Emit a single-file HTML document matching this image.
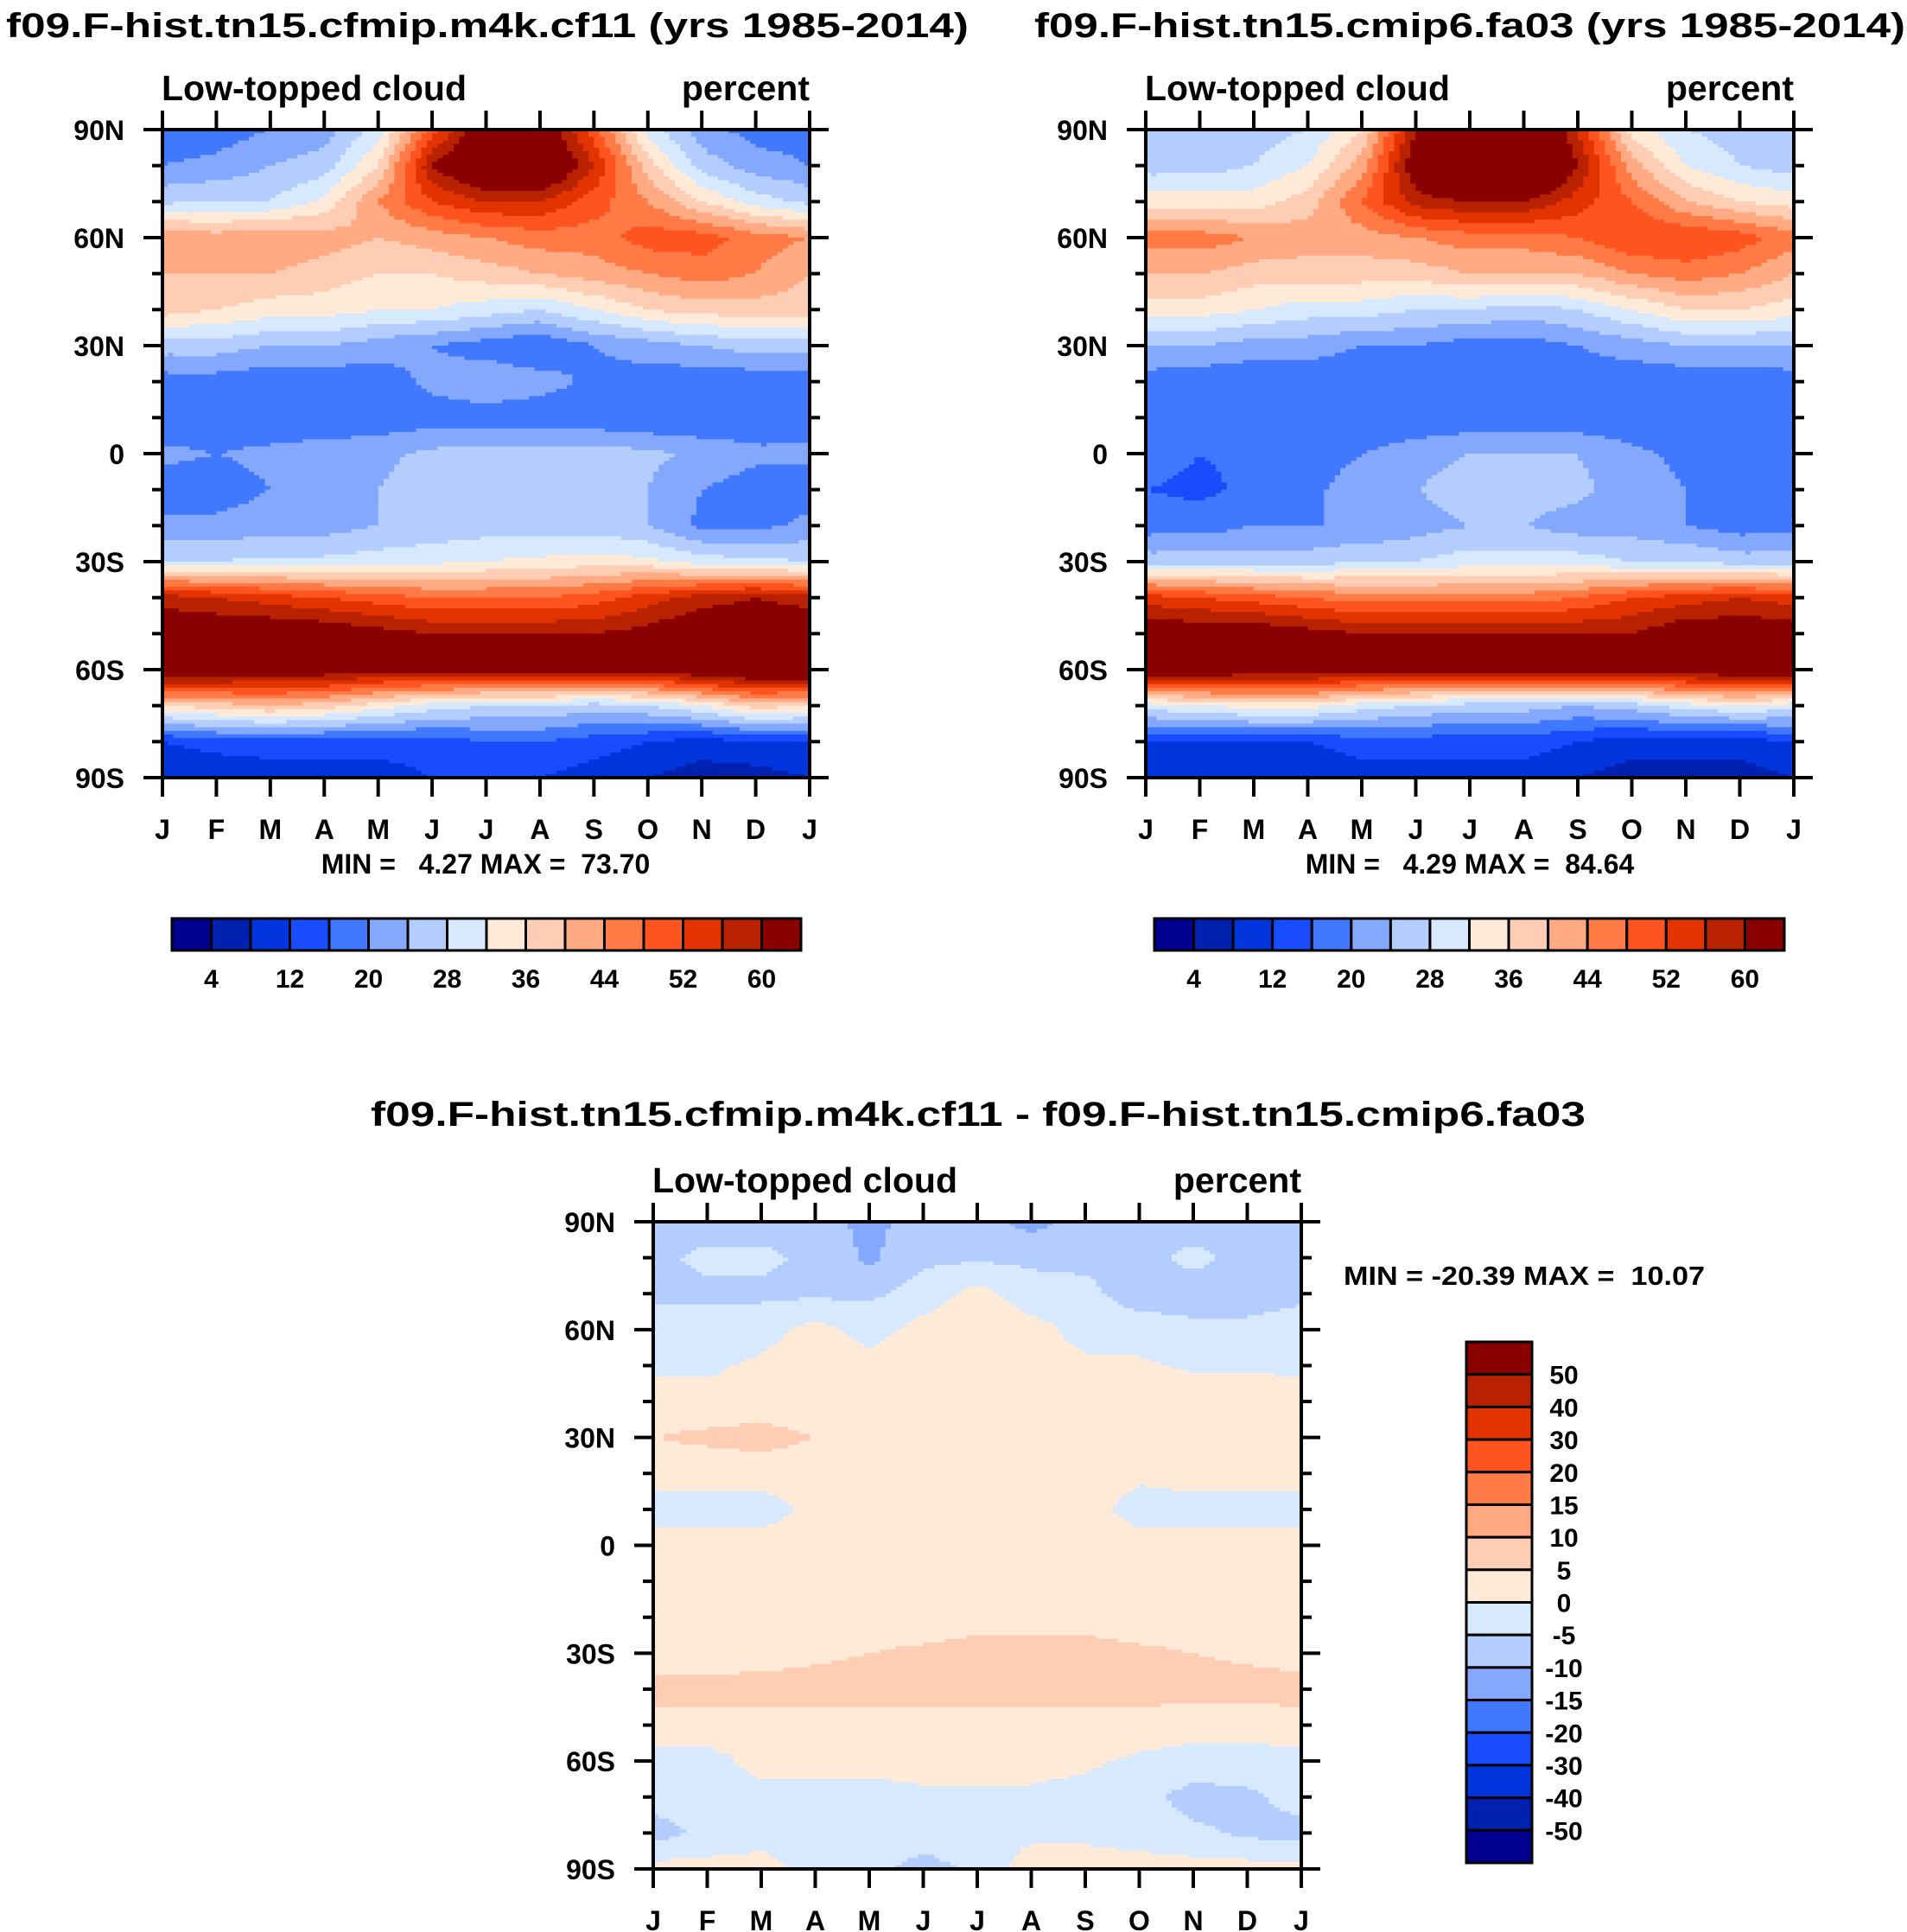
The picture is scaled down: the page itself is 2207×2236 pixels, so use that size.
<!DOCTYPE html>
<html><head><meta charset="utf-8"><style>
html,body{margin:0;padding:0;background:#fff}
svg{display:block}
text{font-family:"Liberation Sans",Arial,sans-serif;font-weight:bold;fill:#000}
</style></head><body>
<svg id="fig" xmlns="http://www.w3.org/2000/svg" width="2207" height="2236" viewBox="0 0 2207 2236">
<g id="p1">
<text x="7" y="43" font-size="40" textLength="1114" lengthAdjust="spacingAndGlyphs">f09.F-hist.tn15.cfmip.m4k.cf11 (yrs 1985-2014)</text>
<text x="187" y="116" font-size="41">Low-topped cloud</text>
<text x="937" y="116" font-size="41" text-anchor="end">percent</text>
<text x="562" y="1011" font-size="32" text-anchor="middle" xml:space="preserve">MIN =   4.27 MAX =  73.70</text>
</g>
<g id="p2">
<text x="1197" y="43" font-size="40" textLength="1008" lengthAdjust="spacingAndGlyphs">f09.F-hist.tn15.cmip6.fa03 (yrs 1985-2014)</text>
<text x="1325" y="116" font-size="41">Low-topped cloud</text>
<text x="2076" y="116" font-size="41" text-anchor="end">percent</text>
<text x="1701" y="1011" font-size="32" text-anchor="middle" xml:space="preserve">MIN =   4.29 MAX =  84.64</text>
</g>
<g id="p3">
<text x="429" y="1303" font-size="40" textLength="1406" lengthAdjust="spacingAndGlyphs">f09.F-hist.tn15.cfmip.m4k.cf11 - f09.F-hist.tn15.cmip6.fa03</text>
<text x="755" y="1380" font-size="41">Low-topped cloud</text>
<text x="1506" y="1380" font-size="41" text-anchor="end">percent</text>
<text x="1555" y="1487" font-size="31" textLength="418" lengthAdjust="spacingAndGlyphs" xml:space="preserve">MIN = -20.39 MAX =  10.07</text>
</g>
</svg>
<script>
const months = ["J","F","M","A","M","J","J","A","S","O","N","D","J"];
const lats = [90,80,70,60,50,40,30,20,10,0,-10,-20,-30,-40,-50,-60,-70,-80,-90];
const latTickLabels = ["90N","60N","30N","0","30S","60S","90S"];
const colors = ["#000090","#0021B0","#0034DC","#1A4CFF","#4079FF","#85A8FF","#B4CDFF","#D7E9FF","#FFEAD8","#FECDB4","#FFAA82","#FF7A45","#FF5420","#E23300","#B82200","#8A0000"];
const levelsAbs = [4,8,12,16,20,24,28,32,36,40,44,48,52,56,60];
const levelsDiff = [-50,-40,-30,-20,-15,-10,-5,0,5,10,15,20,30,40,50];
const cbLabelsAbs = ["4","12","20","28","36","44","52","60"];
const cbLabelsDiff = ["50","40","30","20","15","10","5","0","-5","-10","-15","-20","-30","-40","-50"];
const cfmip = [
[18,18,20,22,30,50,65,65,50,30,22,18,18],
[20,21,24,26,36,60,70,70,56,38,26,22,20],
[27,28,28,33,44,52,56,56,50,44,36,30,27],
[44,42,44,42,40,42,44,46,46,50,50,46,44],
[40,40,40,38,36,36,38,40,42,44,46,44,40],
[38,36,34,34,32,32,30,28,32,36,38,38,38],
[26,26,24,24,22,20,18,16,20,22,24,26,26],
[18,18,17,17,18,21,23,22,19,18,17,17,18],
[17,17,17,17,17,18,18,17,17,16,16,17,17],
[21,20,21,22,23,25,26,26,26,25,23,21,21],
[18,18,20,21,24,26,27,27,26,24,20,18,18],
[21,21,22,22,24,25,26,26,26,24,19,19,21],
[28,28,29,29,30,31,32,33,34,33,30,29,28],
[58,56,54,52,50,48,48,48,50,54,58,60,58],
[65,65,65,64,62,60,60,60,60,62,65,65,65],
[68,66,64,64,62,62,62,62,62,62,66,68,68],
[36,38,40,38,34,30,28,28,26,28,32,38,36],
[12,14,14,14,14,14,16,16,14,12,10,12,12],
[8,8,10,10,10,12,12,12,10,8,6,6,8]];
const cmip6 = [
[24,24,26,28,36,60,72,72,56,34,28,26,24],
[26,26,28,32,42,64,78,78,60,42,32,28,26],
[34,34,34,38,48,58,60,60,54,48,40,36,34],
[46,46,44,42,42,44,46,46,48,52,52,50,46],
[40,40,38,38,38,38,40,40,40,44,46,44,40],
[34,34,32,30,30,28,28,26,28,32,36,36,34],
[24,24,22,22,20,20,18,18,20,22,24,24,24],
[18,17,17,17,17,18,20,18,18,17,17,17,18],
[16,16,16,17,17,17,17,17,17,17,17,17,16],
[18,16,17,18,20,22,24,24,24,21,19,17,18],
[16,15,17,19,22,24,26,26,25,22,20,18,16],
[18,18,20,20,20,22,24,24,22,22,20,18,18],
[26,26,26,26,28,28,30,30,30,28,28,26,26],
[54,52,50,48,46,46,46,46,48,52,54,56,54],
[64,64,64,62,60,60,60,60,60,60,64,64,64],
[66,66,64,64,62,62,62,62,62,62,64,66,66],
[30,32,34,34,30,28,26,26,24,26,30,32,30],
[12,12,12,12,14,14,14,14,12,10,10,10,12],
[8,8,8,8,10,10,10,10,8,6,6,6,8]];
const diff = [
[-7,-7,-7,-7,-12,-7,-7,-12,-7,-7,-7,-7,-7],
[-6,-4,-4,-6,-11,-6,-6,-6,-6,-6,-4,-6,-6],
[-6,-6,-6,-6,-6,-3,2,-3,-4,-7,-7,-7,-6],
[-3,-3,-2,2,-2,2,3,2,-2,-3,-4,-4,-3],
[-1,-1,1,2,2,2,2,2,1,1,-1,-1,-1],
[2,2,2,2,2,2,2,2,2,4,4,4,2],
[5,6,7,5,2,2,2,2,2,2,5,5,5],
[2,2,2,2,2,2,2,2,2,1,2,2,2],
[-2,-2,-2,1,2,2,2,2,2,-2,-2,-2,-2],
[2,2,2,2,2,2,2,2,2,2,2,2,2],
[2,2,2,2,2,2,2,2,2,2,1,2,2],
[2,2,2,2,2,2,3,3,3,2,2,2,2],
[2,2,3,4,5,6,7,7,7,6,5,4,3],
[7,7,7,7,7,7,7,7,7,7,7,7,7],
[3,3,3,3,3,3,3,3,3,3,2,2,3],
[-2,-2,2,2,2,2,2,2,1,-1,-2,-2,-2],
[-3,-3,-2,-2,-2,-1,-1,-1,-2,-3,-7,-6,-3],
[-7,-4,-2,-2,-1,-1,-1,-1,-1,-2,-4,-6,-7],
[2,2,2,-2,-2,-8,-3,2,2,2,2,2,2]];

const NS="http://www.w3.org/2000/svg";
function mk(tag,attrs,parent){const e=document.createElementNS(NS,tag);for(const k in attrs)e.setAttribute(k,attrs[k]);parent.appendChild(e);return e;}
function levelIndex(v,levels){let i=0;while(i<levels.length&&v>=levels[i])i++;return i;}

function drawPanel(g,key,data,levels,x0,y0,w,h){
  const xS=i=>x0+i*w/(months.length-1);
  const yS=lat=>y0+(90-lat)/180*h;
  const cells=mk('g',{},g);
  
  
  const SUB=10, nr=lats.length-1, nc=months.length-1;
  const rows=nr*SUB, cols=nc*SUB;
  for(let r=0;r<rows;r++){
    const li=Math.floor(r/SUB), fy=(r%SUB+0.5)/SUB;
    const latA=lats[li]+(lats[li+1]-lats[li])*(r%SUB)/SUB;
    const latB=lats[li]+(lats[li+1]-lats[li])*((r%SUB)+1)/SUB;
    const ya=yS(latA), yb=yS(latB);
    let runStart=0, runCol=-1;
    for(let c=0;c<=cols;c++){
      let ci=-1;
      if(c<cols){
        const mi=Math.floor(c/SUB), fx=(c%SUB+0.5)/SUB;
        const v=(data[li][mi]*(1-fx)+data[li][mi+1]*fx)*(1-fy)+(data[li+1][mi]*(1-fx)+data[li+1][mi+1]*fx)*fy;
        ci=levelIndex(v,levels);
      }
      if(ci!==runCol){
        if(runCol>=0){
          const xa=xS(runStart/SUB), xb=xS(c/SUB);
          const rc=mk('rect',{x:xa.toFixed(2),y:ya.toFixed(2),width:(xb-xa+0.6).toFixed(2),height:(yb-ya+0.6).toFixed(2),fill:colors[runCol]},cells);
          
          
        }
        runStart=c; runCol=ci;
      }
    }
  }
  const ax=mk('g',{stroke:'#000','stroke-width':4,fill:'none'},g);
  
  
  mk('rect',{x:x0,y:y0,width:w,height:h},ax);
  for(let i=0;i<months.length;i++){
    const x=xS(i);
    mk('line',{x1:x,y1:y0,x2:x,y2:y0-22},ax);
    mk('line',{x1:x,y1:y0+h,x2:x,y2:y0+h+22},ax);
    const t=mk('text',{x:x,y:y0+h+71,'font-size':32,'text-anchor':'middle',stroke:'none'},g);
    t.textContent=months[i];
    
    
  }
  for(let lat=90;lat>=-90;lat-=10){
    const y=yS(lat), major=(lat%30===0), L=major?22:12;
    mk('line',{x1:x0,y1:y,x2:x0-L,y2:y},ax);
    mk('line',{x1:x0+w,y1:y,x2:x0+w+L,y2:y},ax);
  }
  for(let k=0;k<latTickLabels.length;k++){
    const t=mk('text',{x:x0-44,y:yS(90-30*k)+12,'font-size':32,'text-anchor':'end'},g);
    t.textContent=latTickLabels[k];
    
    
  }
}
function hbar(g,key,x0,y0,w,h){
  const n=colors.length, bw=w/n;
  for(let i=0;i<n;i++){
    const r=mk('rect',{x:x0+i*bw,y:y0,width:bw,height:h,fill:colors[i],stroke:'#000','stroke-width':3},g);
    
    
  }
  for(let k=0;k<cbLabelsAbs.length;k++){
    const t=mk('text',{x:x0+(2*k+1)*bw,y:y0+h+43,'font-size':30,'text-anchor':'middle'},g);
    t.textContent=cbLabelsAbs[k];
    
    
  }
}
function vbar(g,key,x0,y0,w,h){
  const n=colors.length, bh=h/n;
  for(let i=0;i<n;i++){
    const r=mk('rect',{x:x0,y:y0+i*bh,width:w,height:bh,fill:colors[n-1-i],stroke:'#000','stroke-width':3},g);
    
    
  }
  for(let k=0;k<cbLabelsDiff.length;k++){
    const t=mk('text',{x:x0+w+37,y:y0+(k+1)*bh+11,'font-size':30,'text-anchor':'middle'},g);
    t.textContent=cbLabelsDiff[k];
    
    
  }
}
const g1=document.getElementById('p1'), g2=document.getElementById('p2'), g3=document.getElementById('p3');
drawPanel(g1,'cfmip',cfmip,levelsAbs,188,150,749,750);
hbar(g1,'cfmip',199,1063,728,37);
drawPanel(g2,'cmip6',cmip6,levelsAbs,1326,150,750,750);
hbar(g2,'cmip6',1336,1063,729,37);
drawPanel(g3,'difference',diff,levelsDiff,756,1414,750,749);
vbar(g3,'difference',1697,1553,76,603);
</script>
</body></html>
